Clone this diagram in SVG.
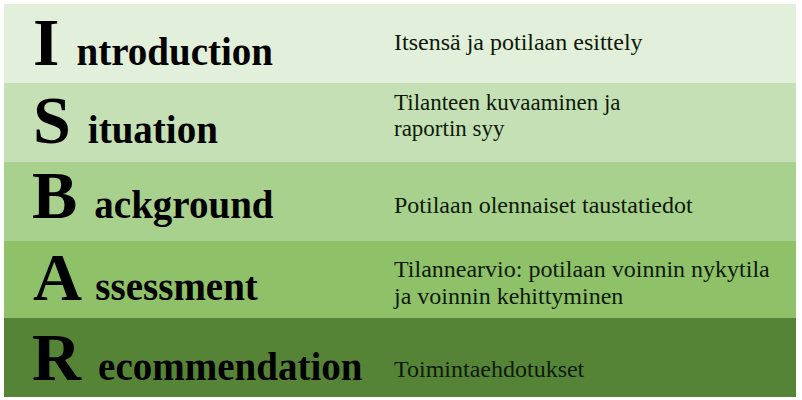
<svg xmlns="http://www.w3.org/2000/svg" width="802" height="400" viewBox="0 0 802 400">
<style>
.big{font-family:"Liberation Serif","Times New Roman",serif;font-weight:bold;fill:#000}
.cap{font-size:68px}
.rest{font-size:39px}
.desc{font-family:"Liberation Serif","DejaVu Serif",serif;font-weight:normal;font-style:normal;font-size:24px;fill:#0d1a0a}
.s23{font-size:23px}
</style>
<rect width="802" height="400" fill="#ffffff"/>
<g id="row-introduction">
<rect x="4" y="4" width="792" height="79" fill="#e2efda"/>
<text class="big" x="33" y="65"><tspan class="cap">I </tspan><tspan class="rest">ntroduction</tspan></text>
<text class="desc" x="394" y="50">Itsensä ja potilaan esittely</text>
</g>
<g id="row-situation">
<rect x="4" y="83" width="792" height="79" fill="#c5e0b4"/>
<text class="big" x="33" y="143"><tspan class="cap">S </tspan><tspan class="rest">ituation</tspan></text>
<text class="desc s23" x="394" y="110">Tilanteen kuvaaminen ja</text>
<text class="desc s23" x="394" y="136">raportin syy</text>
</g>
<g id="row-background">
<rect x="4" y="162" width="792" height="79" fill="#a9d18e"/>
<text class="big" x="32" y="218"><tspan class="cap">B </tspan><tspan class="rest">ackground</tspan></text>
<text class="desc" x="394" y="213">Potilaan olennaiset taustatiedot</text>
</g>
<g id="row-assessment">
<rect x="4" y="241" width="792" height="77" fill="#8fc168"/>
<text class="big" x="33" y="300"><tspan class="cap">A </tspan><tspan class="rest">ssessment</tspan></text>
<text class="desc" x="394" y="277">Tilannearvio: potilaan voinnin nykytila</text>
<text class="desc" x="394" y="304">ja voinnin kehittyminen</text>
</g>
<g id="row-recommendation">
<rect x="4" y="318" width="792" height="79" fill="#568436"/>
<text class="big" x="32" y="380"><tspan class="cap">R </tspan><tspan class="rest">ecommendation</tspan></text>
<text class="desc" x="394" y="377">Toimintaehdotukset</text>
</g>
<g id="connectors"></g>
</svg>
